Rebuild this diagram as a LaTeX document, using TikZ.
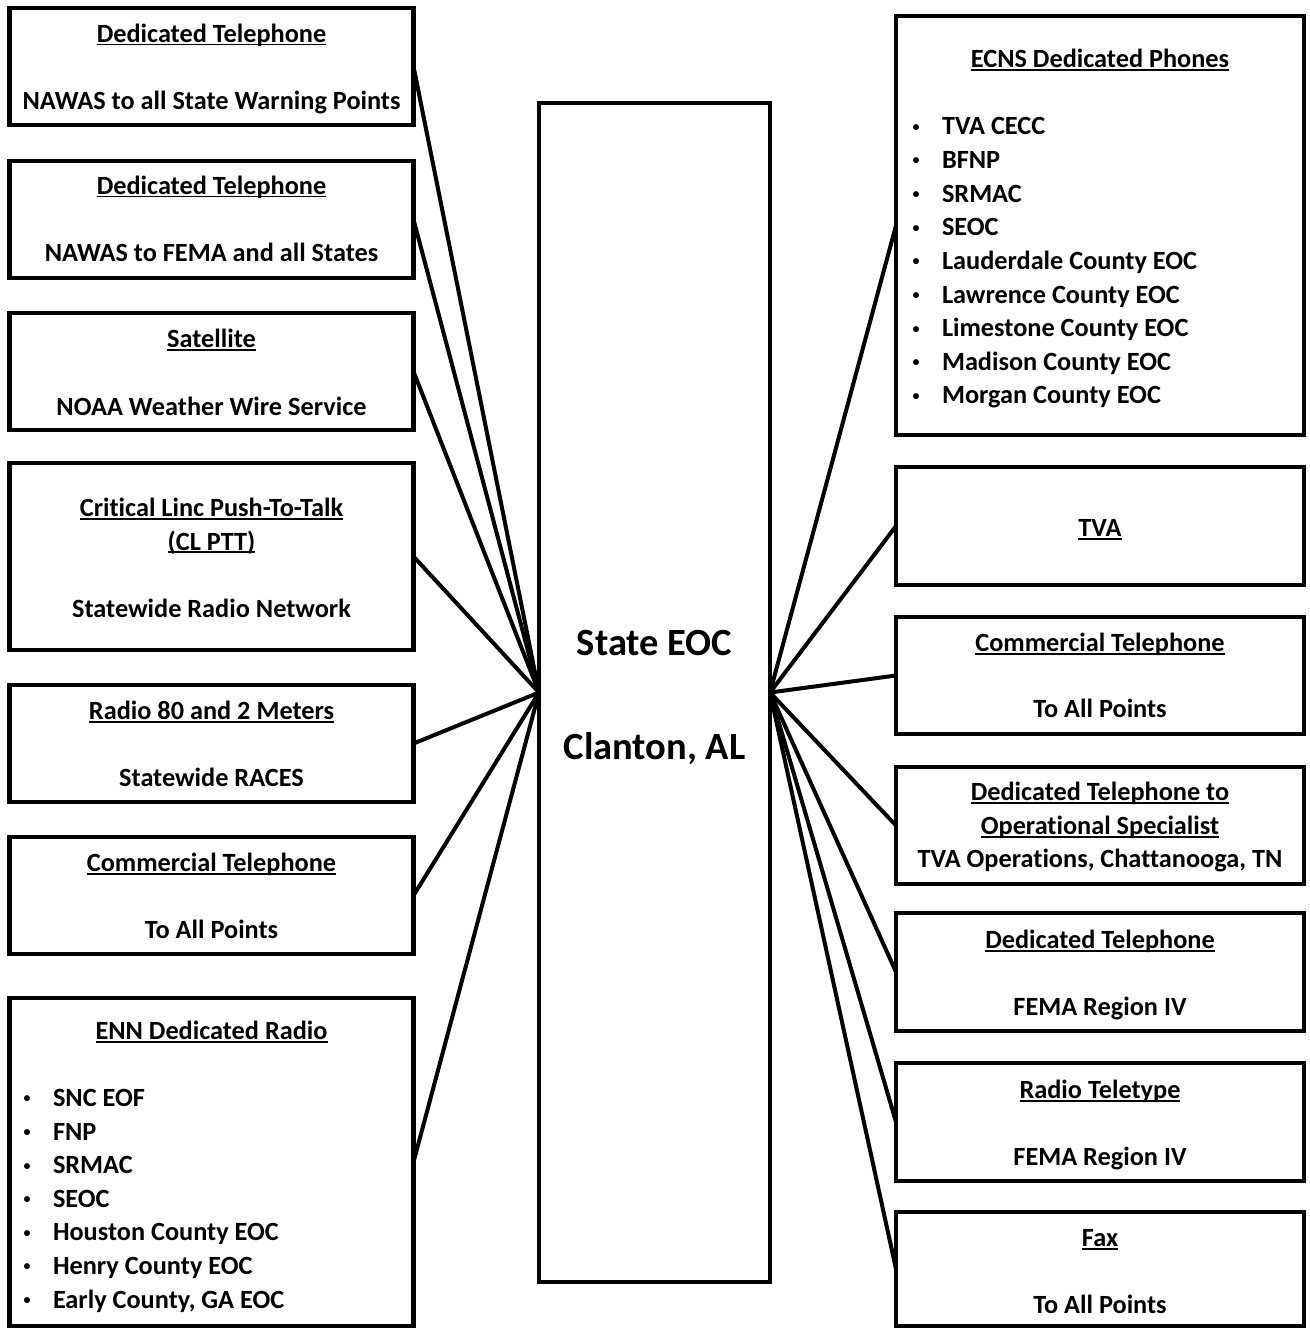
\documentclass[tikz,border=0pt]{standalone}
\usepackage{fontspec}
\setmainfont{Carlito}[Ligatures=NoCommon]
\newcommand\ulx[1]{\setbox0\hbox{#1}\rlap{\rule[-3pt]{\wd0}{1.6pt}}\box0}
\newcommand\bul{\makebox[31pt][l]{\makebox[10pt]{\raisebox{3.6pt}{\fontsize{14}{14}\selectfont •}}}}
\tikzset{
  box/.style={draw, line width=4.5pt, inner sep=0pt, outer sep=0pt},
  link/.style={line width=4pt},
  txt/.style={inner sep=0pt, outer sep=0pt, anchor=base, font=\fontsize{26.3}{30}\selectfont\bfseries},
  big/.style={inner sep=0pt, outer sep=0pt, anchor=base, font=\fontsize{38.5}{44}\selectfont\bfseries},
  lbox/.style={box, minimum width=404pt},
  rbox/.style={box, minimum width=408pt}
}
\begin{document}
\begin{tikzpicture}[x=1pt,y=-1pt]
\useasboundingbox (0,0) rectangle (1309,1329);
% boxes
\node[lbox, minimum height=117pt] (l1) at (211.5,66.5) {};
\node[lbox, minimum height=117pt] (l2) at (211.5,219.5) {};
\node[lbox, minimum height=117pt] (l3) at (211.5,371.5) {};
\node[lbox, minimum height=187pt] (l4) at (211.5,556.5) {};
\node[lbox, minimum height=117pt] (l5) at (211.5,743.5) {};
\node[lbox, minimum height=117pt] (l6) at (211.5,895.5) {};
\node[lbox, minimum height=328pt] (l7) at (211.5,1162) {};
\node[box, minimum width=231pt, minimum height=1179pt] (c) at (654.5,692.5) {};
\node[rbox, minimum height=419pt] (r1) at (1100,225.5) {};
\node[rbox, minimum height=118pt] (r2) at (1100,526) {};
\node[rbox, minimum height=117pt] (r3) at (1100,675.5) {};
\node[rbox, minimum height=117pt] (r4) at (1100,825.5) {};
\node[rbox, minimum height=118pt] (r5) at (1100,972) {};
\node[rbox, minimum height=118pt] (r6) at (1100,1122) {};
\node[rbox, minimum height=114pt] (r7) at (1100,1269) {};
% connectors
\foreach \n in {l1,l2,l3,l4,l5,l6,l7} \draw[link] (\n.east) -- (c.west);
\foreach \n in {r1,r2,r3,r4,r5,r6,r7} \draw[link] (\n.west) -- (c.east);
% center text
\node[big] (ct1) at (654.5,655.5) {State EOC};
\node[big] (ct2) at (654.5,759.5) {Clanton, AL};
% left texts
\node[txt] (l1a) at (211.5,42.5) {\ulx{Dedicated Telephone}};
\node[txt] (l1b) at (211.5,109.5) {NAWAS to all State Warning Points};
\node[txt] (l2a) at (211.5,194.5) {\ulx{Dedicated Telephone}};
\node[txt] (l2b) at (211.5,262) {NAWAS to FEMA and all States};
\node[txt] (l3a) at (211.5,347.5) {\ulx{Satellite}};
\node[txt] (l3b) at (211.5,415) {NOAA Weather Wire Service};
\node[txt] (l4a) at (211.5,516.5) {\ulx{Critical Linc Push-To-Talk}};
\node[txt] (l4b) at (211.5,550) {\ulx{(CL PTT)}};
\node[txt] (l4c) at (211.5,617) {Statewide Radio Network};
\node[txt] (l5a) at (211.5,719.5) {\ulx{Radio 80 and 2 Meters}};
\node[txt] (l5b) at (211.5,786) {Statewide RACES};
\node[txt] (l6a) at (211.5,871.5) {\ulx{Commercial Telephone}};
\node[txt] (l6b) at (211.5,938.5) {To All Points};
\node[txt] (l7a) at (211.5,1039.5) {\ulx{ENN Dedicated Radio}};
\foreach \t [count=\i from 0] in {SNC EOF, FNP, SRMAC, SEOC, Houston County EOC, Henry County EOC, {Early County, GA EOC}}
  \node[txt, anchor=base west] (l7i\i) at (22,1106.5+33.6*\i) {\bul\t};
% right texts
\node[txt] (r1a) at (1100,68) {\ulx{ECNS Dedicated Phones}};
\foreach \t [count=\i from 0] in {TVA CECC, BFNP, SRMAC, SEOC, Lauderdale County EOC, Lawrence County EOC, Limestone County EOC, Madison County EOC, Morgan County EOC}
  \node[txt, anchor=base west] (r1i\i) at (911,135+33.6*\i) {\bul\t};
\node[txt] (r2a) at (1100,536.5) {\ulx{TVA}};
\node[txt] (r3a) at (1100,651.5) {\ulx{Commercial Telephone}};
\node[txt] (r3b) at (1100,717.5) {To All Points};
\node[txt] (r4a) at (1100,800.5) {\ulx{Dedicated Telephone to}};
\node[txt] (r4b) at (1100,834.5) {\ulx{Operational Specialist}};
\node[txt] (r4c) at (1100,867.5) {TVA Operations, Chattanooga, TN};
\node[txt] (r5a) at (1100,948.5) {\ulx{Dedicated Telephone}};
\node[txt] (r5b) at (1100,1015) {FEMA Region IV};
\node[txt] (r6a) at (1100,1098.5) {\ulx{Radio Teletype}};
\node[txt] (r6b) at (1100,1165) {FEMA Region IV};
\node[txt] (r7a) at (1100,1246.5) {\ulx{Fax}};
\node[txt] (r7b) at (1100,1313.5) {To All Points};
\end{tikzpicture}
\end{document}
